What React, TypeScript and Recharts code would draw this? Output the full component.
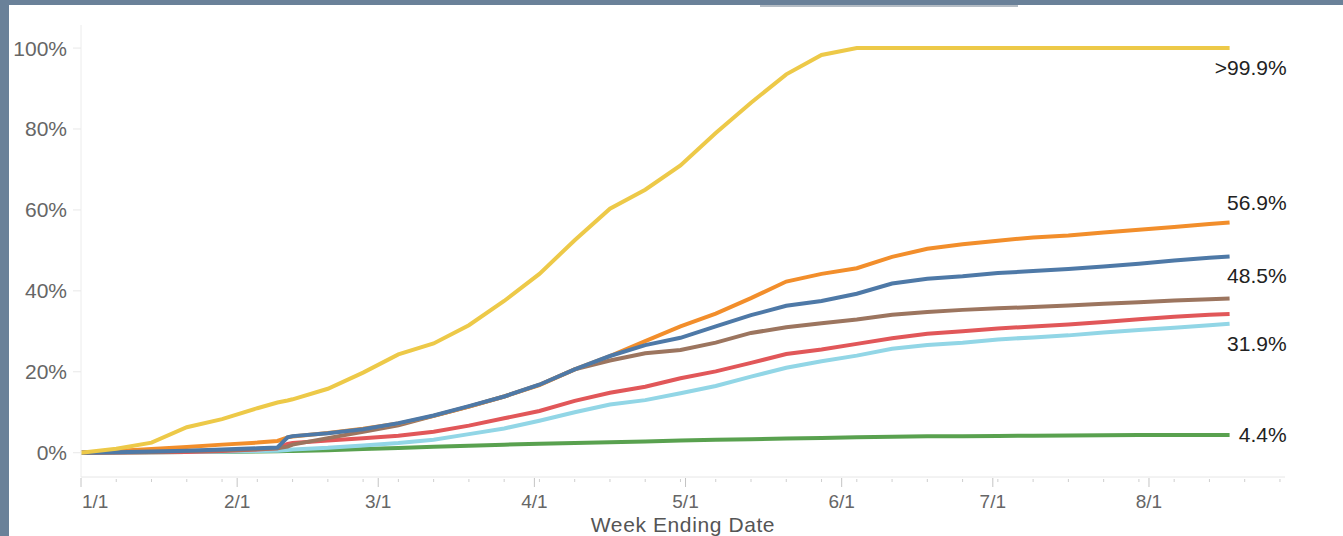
import React from "react";
import { LineChart, Line, XAxis, YAxis } from "recharts";

// days since Jan 1 (2021), one row per week plus a couple around the mid-Feb jump
const DAYS = [
  0, 7, 14, 21, 28, 35, 39, 41, 42, 49, 56, 63, 70, 77, 84, 91, 98, 105, 112, 119, 126, 133, 140,
  147, 154, 161, 168, 175, 182, 189, 196, 203, 210, 217, 224, 228,
];

const gold = [
  0, 1.0, 2.5, 6.3, 8.3, 11.0, 12.4, 12.9, 13.2, 15.8, 19.8, 24.3, 27.0, 31.5, 37.5, 44.2, 52.5,
  60.3, 65.0, 71.0, 79.0, 86.5, 93.5, 98.3, 100, 100, 100, 100, 100, 100, 100, 100, 100, 100, 100,
  100,
];
const orange = [
  0, 0.4, 0.9, 1.4, 2.0, 2.5, 2.9, 3.8, 4.0, 4.9, 5.9, 7.2, 9.1, 11.4, 13.9, 16.7, 20.6, 23.9,
  27.6, 31.2, 34.4, 38.2, 42.3, 44.2, 45.6, 48.4, 50.4, 51.5, 52.4, 53.2, 53.7, 54.4, 55.1, 55.8,
  56.5, 56.9,
];
const blue = [
  0, 0.1, 0.3, 0.5, 0.8, 1.1, 1.3, 3.8, 4.1, 4.8, 5.8, 7.3, 9.2, 11.5, 13.9, 16.8, 20.6, 23.9,
  26.6, 28.4, 31.2, 34.0, 36.3, 37.5, 39.3, 41.8, 43.0, 43.6, 44.4, 44.9, 45.4, 46.0, 46.7, 47.5,
  48.2, 48.5,
];
const brown = [
  0, 0.1, 0.2, 0.4, 0.6, 0.9, 1.1, 1.5, 2.0, 3.6, 5.2, 6.8, 9.1, 11.4, 13.9, 16.8, 20.6, 22.8,
  24.6, 25.4, 27.2, 29.6, 31.0, 32.0, 32.9, 34.1, 34.8, 35.3, 35.7, 36.0, 36.4, 36.8, 37.2, 37.6,
  37.9, 38.1,
];
const red = [
  0, 0.05, 0.1, 0.2, 0.4, 0.8, 1.1, 2.2, 2.4, 3.0, 3.6, 4.2, 5.2, 6.7, 8.5, 10.3, 12.8, 14.8, 16.3,
  18.4, 20.1, 22.2, 24.4, 25.5, 26.9, 28.3, 29.4, 30.0, 30.7, 31.2, 31.7, 32.3, 33.0, 33.6, 34.1,
  34.3,
];
const cyan = [
  0, 0.05, 0.1, 0.15, 0.25, 0.4, 0.5, 0.7, 0.8, 1.2, 1.8, 2.4, 3.2, 4.6, 6.0, 7.9, 10.0, 11.9,
  13.0, 14.7, 16.5, 18.8, 21.0, 22.6, 24.0, 25.7, 26.6, 27.2, 28.0, 28.5, 29.0, 29.7, 30.3, 30.9,
  31.5, 31.9,
];
const green = [
  0, 0.05, 0.1, 0.15, 0.2, 0.3, 0.38, 0.43, 0.45, 0.6, 0.9, 1.15, 1.45, 1.75, 2.0, 2.2, 2.4, 2.6,
  2.8, 3.0, 3.2, 3.35, 3.5, 3.65, 3.8, 3.95, 4.05, 4.1, 4.15, 4.2, 4.25, 4.3, 4.35, 4.4, 4.4, 4.4,
];

const MONTH_DAYS = [0, 31, 59, 90, 120, 151, 181, 212];
const MONTH_LABELS = ["1/1", "2/1", "3/1", "4/1", "5/1", "6/1", "7/1", "8/1"];
const WEEK_DAYS = [0, 7, 14, 21, 28, 35, 42, 49, 56, 63, 70, 77, 84, 91, 98, 105, 112, 119, 126,
  133, 140, 147, 154, 161, 168, 175, 182, 189, 196, 203, 210, 217, 224, 231, 238];
const Y_TICKS = [0, 20, 40, 60, 80, 100];

const data = DAYS.map((d, i) => ({
  day: d,
  gold: gold[i],
  orange: orange[i],
  blue: blue[i],
  brown: brown[i],
  red: red[i],
  cyan: cyan[i],
  green: green[i],
}));

const xTicks = Array.from(new Set([...WEEK_DAYS, ...MONTH_DAYS])).sort((a, b) => a - b);

const FONT = "'Liberation Sans', Arial, sans-serif";

function XTick(props: any) {
  const { x, y, payload } = props;
  const idx = MONTH_DAYS.indexOf(payload.value);
  if (idx < 0) {
    return <line x1={x} x2={x} y1={y + 2} y2={y + 5} stroke="#cfcfcf" />;
  }
  return (
    <g>
      <line x1={x} x2={x} y1={y + 1} y2={y + 10} stroke="#c4c4c4" />
      <text
        x={idx === 0 ? x + 1 : x}
        y={y + 31}
        textAnchor={idx === 0 ? "start" : "middle"}
        fill="#666"
        fontSize={19}
        fontFamily={FONT}
      >
        {MONTH_LABELS[idx]}
      </text>
    </g>
  );
}

function endLabel(text: string, dy: number) {
  return (props: any) => {
    const { x, y, index } = props;
    if (index !== DAYS.length - 1) return null;
    return (
      <text
        x={x + 57}
        y={y + dy + 7}
        textAnchor="end"
        fill="#222"
        fontSize={21}
        fontFamily={FONT}
      >
        {text}
      </text>
    );
  };
}

export default function App() {
  return (
    <div
      style={{
        position: "fixed",
        left: 0,
        top: 0,
        width: 1343,
        height: 536,
        background: "#6a8199",
        overflow: "hidden",
      }}
    >
      <div
        style={{ position: "absolute", left: 9, top: 5, right: 0, bottom: 0, background: "#fff" }}
      />
      <div
        style={{ position: "absolute", left: 760, top: 5, width: 258, height: 2, background: "#b4bcc4" }}
      />
      <div style={{ position: "absolute", left: 0, top: 0 }}>
        <LineChart width={1343} height={536} data={data} margin={{ top: 25, right: 58, bottom: 0, left: 0 }}>
          <XAxis
            dataKey="day"
            type="number"
            domain={[0, 239]}
            ticks={xTicks}
            interval={0}
            tick={<XTick />}
            tickLine={false}
            tickSize={0}
            tickMargin={0}
            axisLine={{ stroke: "#e6e6e6" }}
            height={59}
            label={{
              value: "Week Ending Date",
              position: "insideBottom",
              offset: 4,
              fill: "#555",
              fontSize: 21,
              fontFamily: FONT,
              letterSpacing: 0.6,
            }}
          />
          <YAxis
            type="number"
            domain={[-6, 105.7]}
            ticks={Y_TICKS}
            width={81}
            tickFormatter={(v: number) => `${v}%`}
            tick={{ fill: "#666", fontSize: 21, fontFamily: FONT }}
            tickSize={8}
            tickMargin={6}
            tickLine={{ stroke: "#e8e8e8" }}
            axisLine={{ stroke: "#ececec" }}
          />
          <Line dataKey="green" stroke="#59a14f" strokeWidth={4} dot={false} isAnimationActive={false} label={endLabel("4.4%", 0)} />
          <Line dataKey="cyan" stroke="#92d6e6" strokeWidth={4} dot={false} isAnimationActive={false} label={endLabel("31.9%", 20.5)} />
          <Line dataKey="red" stroke="#e15759" strokeWidth={4} dot={false} isAnimationActive={false} />
          <Line dataKey="brown" stroke="#9c755f" strokeWidth={4} dot={false} isAnimationActive={false} />
          <Line dataKey="orange" stroke="#f28e2b" strokeWidth={4} dot={false} isAnimationActive={false} label={endLabel("56.9%", -19)} />
          <Line dataKey="blue" stroke="#4e79a7" strokeWidth={4} dot={false} isAnimationActive={false} label={endLabel("48.5%", 20)} />
          <Line dataKey="gold" stroke="#edc948" strokeWidth={4} dot={false} isAnimationActive={false} label={endLabel(">99.9%", 20)} />
        </LineChart>
      </div>
    </div>
  );
}
